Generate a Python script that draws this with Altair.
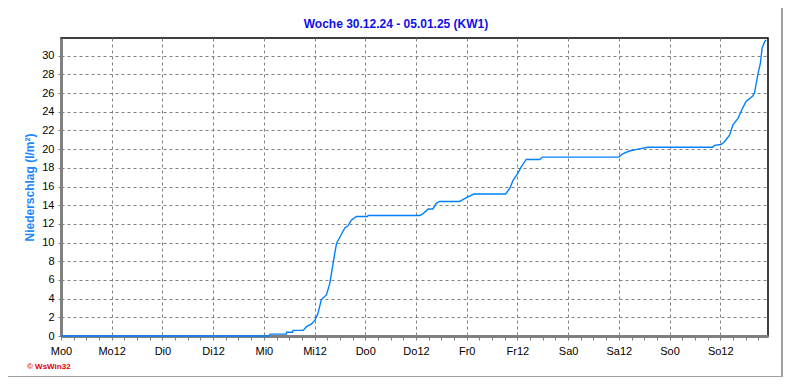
import altair as alt
import pandas as pd

# Hours since Monday 00:00 (30.12.24) and cumulative precipitation (l/m²)
hours = [0, 49.2, 49.5, 53.3, 53.4, 54.8, 54.9, 57.3, 58.1, 59.3, 60.1, 60.8, 61.6,
         62.8, 63.6, 64.4, 64.8, 65.2, 66.0, 67.2, 67.9, 68.7, 69.9, 72.5, 72.7,
         84.9, 85.7, 86.9, 88.0, 88.8, 89.6, 94.3, 95.1, 96.3, 97.7, 105.2, 106.2,
         107.0, 108.1, 108.9, 110.1, 113.3, 113.9, 132.0, 132.9, 134.5, 136.5,
         138.9, 154.2, 154.6, 156.2, 157.0, 158.2, 159.0, 160.2, 161.3, 162.1,
         163.7, 164.1, 164.9, 165.5, 165.9, 166.5, 166.9]
rain = [0, 0, 0.2, 0.2, 0.4, 0.4, 0.6, 0.6, 1.0, 1.3, 1.7, 2.4, 3.9,
        4.4, 5.6, 7.8, 8.9, 9.9, 10.6, 11.6, 11.8, 12.4, 12.8, 12.8, 12.9,
        12.9, 13.1, 13.6, 13.6, 14.2, 14.4, 14.4, 14.6, 14.9, 15.2, 15.2, 15.8,
        16.7, 17.4, 18.1, 18.9, 18.9, 19.15, 19.15, 19.5, 19.8, 20.0,
        20.2, 20.2, 20.4, 20.5, 20.8, 21.5, 22.6, 23.3, 24.4, 25.1,
        25.7, 26.0, 28.0, 29.2, 30.8, 31.5, 31.7]

days = ["Mo", "Di", "Mi", "Do", "Fr", "Sa", "So"]
x_ticks = list(range(0, 168, 3))
y_ticks = list(range(0, 31, 2))
title_text = "Woche 30.12.24 - 05.01.25 (KW1)"
y_title = "Niederschlag (l/m²)"
credit = "© WsWin32"

df = pd.DataFrame({"h": hours, "v": rain})

days_js = "[" + ",".join("'%s'" % d for d in days) + "]"
label_expr = ("datum.value % 12 == 0 ? " + days_js +
              "[floor(datum.value / 24)] + (datum.value % 24) : ''")

FONT = "Liberation Sans"
GRAY = "#808080"

x_axis = alt.Axis(
    values=x_ticks, labelExpr=label_expr, title=None, zindex=0,
    domainColor=GRAY, domainWidth=3, tickColor=GRAY, tickWidth=1,
    tickSize=4, labelFont=FONT, labelFontSize=11, labelColor="black",
    labelPadding=5, labelOverlap=False, labelFlush=False,
    gridColor=GRAY, gridDash=[3, 3], gridWidth=1,
    gridOpacity={"condition": {"test": "datum.value % 12 == 0 && datum.value > 0", "value": 1}, "value": 0},
)
y_axis = alt.Axis(
    values=y_ticks, title=y_title, titleFont=FONT, titleFontSize=12, zindex=0,
    titleFontWeight="bold", titleColor="#1E88FF", titlePadding=5,
    domainColor=GRAY, domainWidth=3, tickColor=GRAY, tickSize=3,
    labelFont=FONT, labelFontSize=11, labelColor="black", labelPadding=4,
    gridColor=GRAY, gridDash=[3, 3], gridWidth=1,
    gridOpacity={"condition": {"test": "datum.value > 0", "value": 1}, "value": 0},
)

line = alt.Chart(df).mark_line(color="#0080FF", strokeWidth=1.4, clip=False).encode(
    x=alt.X("h:Q", scale=alt.Scale(domain=[0, 167.3], nice=False, zero=False), axis=x_axis),
    y=alt.Y("v:Q", scale=alt.Scale(domain=[0, 31.9], nice=False), axis=y_axis),
)

text_df = pd.DataFrame({"t": [credit], "title": [title_text]})
credit_mark = alt.Chart(text_df).mark_text(
    color="#E00000", fontSize=8, fontWeight="bold", font=FONT, align="left",
    baseline="middle"
).encode(x=alt.value(-34), y=alt.value(329), text="t:N")

title_mark = alt.Chart(text_df).mark_text(
    color="#1010E8", fontSize=12, fontWeight="bold", font=FONT, align="center",
    baseline="middle"
).encode(x=alt.value(335), y=alt.value(-14), text="title:N")

frame_r = alt.Chart(text_df).mark_rule(color="#A0A0A0", strokeWidth=2).encode(
    x=alt.value(721), y=alt.value(-30), y2=alt.value(339))
frame_b = alt.Chart(text_df).mark_rule(color="#A0A0A0", strokeWidth=2).encode(
    x=alt.value(-53), x2=alt.value(722), y=alt.value(339))

chart = alt.layer(line, credit_mark, title_mark, frame_r, frame_b).properties(
    width=707, height=298,
    autosize=alt.AutoSizeParams(type="none"),
    padding={"left": 53, "top": 30, "right": 16, "bottom": 41},
    background="white",
).configure_view(stroke="black", strokeWidth=1.5)

chart.save("out.html", embed_options={"renderer": "svg", "actions": False})
